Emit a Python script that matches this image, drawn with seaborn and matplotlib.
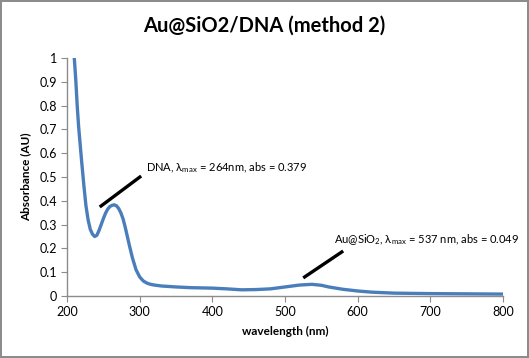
import matplotlib
matplotlib.use("Agg")
import matplotlib.pyplot as plt
import numpy as np
import pandas as pd
import seaborn as sns

# UV-vis spectrum
wavelength = [210, 212, 214, 216, 218, 220, 223, 226, 229, 232, 235, 238, 241, 244,
              247, 250, 253, 256, 259, 262, 265, 268, 271, 274, 277, 280, 283, 286,
              290, 295, 300, 305, 310, 315, 320, 330, 340, 350, 370, 400, 420, 440,
              460, 480, 500, 520, 537, 550, 560, 580, 600, 620, 650, 700, 750, 800]
absorbance = [1.0, 0.91, 0.80, 0.71, 0.64, 0.57, 0.47, 0.38, 0.32, 0.28, 0.26, 0.25,
              0.255, 0.275, 0.30, 0.325, 0.348, 0.365, 0.376, 0.381, 0.383, 0.379,
              0.368, 0.35, 0.325, 0.29, 0.25, 0.21, 0.16, 0.11, 0.08, 0.063, 0.054,
              0.049, 0.046, 0.042, 0.040, 0.038, 0.035, 0.033, 0.030, 0.026, 0.027,
              0.030, 0.038, 0.046, 0.049, 0.045, 0.038, 0.028, 0.021, 0.016, 0.012,
              0.010, 0.009, 0.008]

x_ticks = [200, 300, 400, 500, 600, 700, 800]
y_ticks = [0, 0.1, 0.2, 0.3, 0.4, 0.5, 0.6, 0.7, 0.8, 0.9, 1]
y_labels = ["0", "0.1", "0.2", "0.3", "0.4", "0.5", "0.6", "0.7", "0.8", "0.9", "1"]

dna_label = r"DNA, $\lambda_{max}$ = 264nm, abs = 0.379"
au_label = r"Au@SiO$_2$, $\lambda_{max}$ = 537 nm, abs = 0.049"

df = pd.DataFrame({"wavelength": wavelength, "absorbance": absorbance})

sns.set_style("white")
plt.rcParams["font.family"] = ["Lato", "DejaVu Sans"]
plt.rcParams["mathtext.default"] = "regular"
plt.rcParams["text.color"] = "black"
plt.rcParams["axes.labelcolor"] = "black"
plt.rcParams["xtick.color"] = "black"
plt.rcParams["ytick.color"] = "black"

fig = plt.figure(figsize=(5.29, 3.58), dpi=100)
fig.patch.set_edgecolor("#8c8c8c")
fig.patch.set_linewidth(1.5)
ax = fig.add_axes([0.1267, 0.1732, 0.8243, 0.6648])

sns.lineplot(data=df, x="wavelength", y="absorbance", color="#4a7ebb", lw=2.4, ax=ax)

ax.set_xlim(200, 800)
ax.set_ylim(0, 1)
ax.set_xticks(x_ticks)
ax.set_yticks(y_ticks)
ax.set_yticklabels(y_labels)
ax.tick_params(axis="both", labelsize=9, length=4, direction="out", color="#8c8c8c",
               bottom=True, left=True, pad=3)
for s in ["top", "right"]:
    ax.spines[s].set_visible(False)
for s in ["left", "bottom"]:
    ax.spines[s].set_color("#8c8c8c")
    ax.spines[s].set_linewidth(1)

ax.set_xlabel("wavelength (nm)", fontsize=8.5, fontweight="bold", labelpad=6)
ax.set_ylabel("Absorbance (AU)", fontsize=8.5, fontweight="bold", labelpad=6)
fig.suptitle("Au@SiO2/DNA (method 2)", fontsize=14.5, fontweight="bold", y=0.955)

# callout lines + labels
ax.plot([245, 302], [0.374, 0.504], color="black", lw=2.4, solid_capstyle="butt")
ax.text(309, 0.538, dna_label, fontsize=8, va="center", ha="left")
ax.plot([525, 580], [0.076, 0.189], color="black", lw=2.4, solid_capstyle="butt")
ax.text(568, 0.235, au_label, fontsize=8, va="center", ha="left")

fig.savefig("out.png", dpi=100)
